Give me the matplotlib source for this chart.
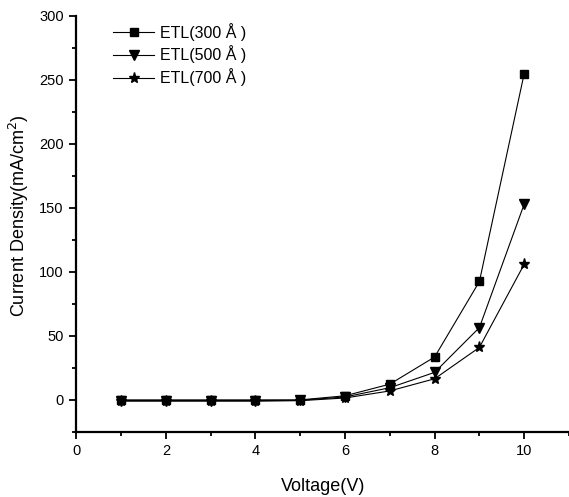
import matplotlib
matplotlib.use("Agg")
import matplotlib.pyplot as plt
from matplotlib.ticker import MultipleLocator

plt.rcParams['font.family'] = ['Liberation Sans', 'DejaVu Sans']

voltage = [1, 2, 3, 4, 5, 6, 7, 8, 9, 10]
etl_300 = [0, 0, 0, 0, 0, 3.2, 12.3, 33.5, 92.5, 255]
etl_500 = [-0.5, -0.5, -0.5, -0.5, -0.3, 2.3, 9.5, 21.5, 56.5, 153]
etl_700 = [-1, -1, -1, -1, -0.6, 1.5, 7, 16.5, 41, 106]
labels = ["ETL(300 \u00c5 )", "ETL(500 \u00c5 )", "ETL(700 \u00c5 )"]

fig = plt.figure(figsize=(5.69, 4.97), dpi=100)
ax = fig.add_axes([0.134, 0.131, 0.866, 0.837])

ax.plot(voltage, etl_300, color="black", lw=0.8, marker="s", ms=6, label=labels[0])
ax.plot(voltage, etl_500, color="black", lw=0.8, marker="v", ms=7.5, label=labels[1])
ax.plot(voltage, etl_700, color="black", lw=0.8, marker="*", ms=8, label=labels[2])

ax.set_xlim(0, 11)
ax.set_ylim(-25, 300)
ax.xaxis.set_major_locator(MultipleLocator(2))
ax.xaxis.set_minor_locator(MultipleLocator(1))
ax.yaxis.set_major_locator(MultipleLocator(50))
ax.yaxis.set_minor_locator(MultipleLocator(25))
ax.spines["top"].set_visible(False)
ax.spines["right"].set_visible(False)
ax.spines["left"].set_linewidth(1.6)
ax.spines["bottom"].set_linewidth(1.6)
ax.tick_params(which="major", direction="out", length=5, width=1.3, labelsize=10.5, pad=4)
ax.tick_params(which="minor", direction="out", length=3, width=1.3)

ax.set_xlabel("Voltage(V)", fontsize=13, labelpad=14)
ax.set_ylabel("Current Density(mA/cm$^2$)", fontsize=13)
ax.yaxis.set_label_coords(-0.092, 0.52)

ax.legend(loc="upper left", bbox_to_anchor=(0.045, 1.018), frameon=False, fontsize=11.5,
          handlelength=2.6, labelspacing=0.3, handletextpad=0.35)

fig.savefig("out.png", dpi=100)
